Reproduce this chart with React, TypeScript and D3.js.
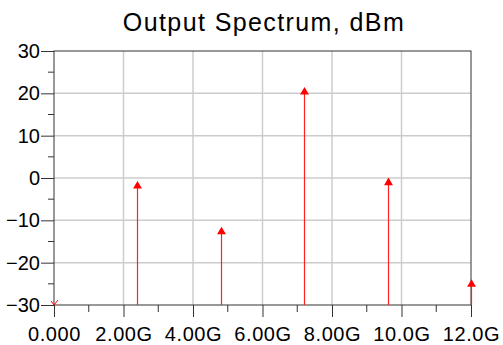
import { useEffect, useRef } from "react";
import * as d3 from "d3";

// spectrum lines (Hz) and their power (dBm)
const freqs = [0, 2.4e9, 4.8e9, 7.2e9, 9.6e9, 12.0e9];
const power = [-30, -1.9, -12.7, 20.3, -1.1, -25.1];
const xTicks = [0, 2e9, 4e9, 6e9, 8e9, 10e9, 12e9];
const xTickLabels = ["0.000", "2.00G", "4.00G", "6.00G", "8.00G", "10.0G", "12.0G"];
const yTicks = [-30, -20, -10, 0, 10, 20, 30];

export default function App() {
    const ref = useRef<SVGSVGElement>(null);

    useEffect(() => {
        const svg = d3.select(ref.current);
        svg.selectAll("*").remove();

        const width = 503;
        const height = 345;
        const left = 54, right = 471, top = 51, bottom = 305;
        const font = "'Liberation Sans', Arial, sans-serif";

        const x = d3.scaleLinear().domain([0, 12e9]).range([left, right]);
        const y = d3.scaleLinear().domain([-30, 30]).range([bottom, top]);
        const px = (v: number) => Math.round(x(v)) + 0.5;

        svg.attr("width", width).attr("height", height);

        svg.append("text")
            .attr("x", 264).attr("y", 31)
            .attr("text-anchor", "middle")
            .style("font-family", font)
            .style("font-size", "25px")
            .style("letter-spacing", "1.4px")
            .text("Output Spectrum, dBm");

        // grid
        const grid = svg.append("g").attr("stroke", "#cccccc").attr("stroke-width", 1.5);
        xTicks.slice(1, -1).forEach(t => {
            grid.append("line").attr("x1", x(t)).attr("x2", x(t)).attr("y1", top).attr("y2", bottom);
        });
        yTicks.slice(1, -1).forEach(t => {
            grid.append("line").attr("x1", left).attr("x2", right).attr("y1", y(t)).attr("y2", y(t));
        });

        // frame
        svg.append("rect")
            .attr("x", left).attr("y", top)
            .attr("width", right - left).attr("height", bottom - top)
            .attr("fill", "none").attr("stroke", "#333").attr("stroke-width", 1);

        // axes
        const xAxis = d3.axisBottom(x)
            .tickValues(xTicks)
            .tickFormat((_, i) => xTickLabels[i])
            .tickSize(12)
            .tickPadding(10);
        const gx = svg.append("g").attr("transform", `translate(0,${bottom})`).call(xAxis);
        gx.select(".domain").remove();
        gx.selectAll("line").attr("stroke", "#333");
        gx.selectAll("text")
            .style("font-family", font)
            .style("font-size", "20px")
            .style("letter-spacing", "0.6px")
            .attr("fill", "#000");

        const xMinor = d3.range(1e9, 12e9, 2e9);
        svg.append("g").selectAll("line").data(xMinor).join("line")
            .attr("x1", d => x(d)).attr("x2", d => x(d))
            .attr("y1", bottom).attr("y2", bottom + 7)
            .attr("stroke", "#333");

        const yAxis = d3.axisLeft(y).tickValues(yTicks).tickSize(13).tickPadding(1);
        const gy = svg.append("g").attr("transform", `translate(${left},0)`).call(yAxis);
        gy.select(".domain").remove();
        gy.selectAll("line").attr("stroke", "#333");
        gy.selectAll("text")
            .style("font-family", font)
            .style("font-size", "20px")
            .attr("fill", "#000");

        const yMinor = d3.range(-25, 30, 10);
        svg.append("g").selectAll("line").data(yMinor).join("line")
            .attr("x1", left - 6).attr("x2", left)
            .attr("y1", d => y(d)).attr("y2", d => y(d))
            .attr("stroke", "#333");

        // stems with arrow markers
        const pts = freqs.map((f, i) => ({ f, p: power[i] }));
        const stems = pts.filter(d => d.p > -30);
        svg.append("g").selectAll("line").data(stems).join("line")
            .attr("x1", d => px(d.f)).attr("x2", d => px(d.f))
            .attr("y1", bottom).attr("y2", d => y(d.p))
            .attr("stroke", "#ff2020").attr("stroke-width", 1.2);

        const tri = d3.symbol().type(d3.symbolTriangle).size(34);
        svg.append("g").selectAll("path").data(stems).join("path")
            .attr("d", tri)
            .attr("transform", d => `translate(${px(d.f)},${y(d.p)})`)
            .attr("fill", "#ff0000");

        // clipped point drawn as a small v
        svg.append("g").selectAll("path").data(pts.filter(d => d.p <= -30)).join("path")
            .attr("d", d => {
                const cx = x(d.f), cy = y(d.p);
                return `M${cx - 3},${cy - 4}L${cx},${cy}L${cx + 4},${cy - 5}`;
            })
            .attr("fill", "none").attr("stroke", "#ff0000").attr("stroke-width", 1);
    }, []);

    return <svg ref={ref} style={{ position: "absolute", left: 0, top: 0 }}></svg>;
}
